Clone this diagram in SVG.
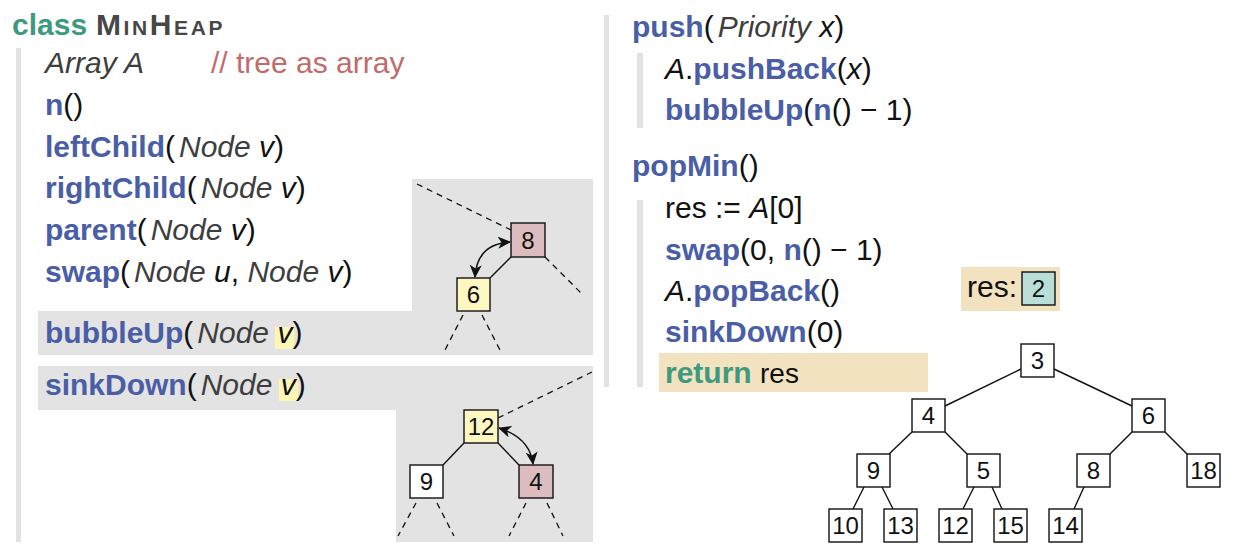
<svg xmlns="http://www.w3.org/2000/svg" width="1242" height="552" viewBox="0 0 1242 552">
<defs>
<style>
text{font-family:"Liberation Sans",Arial,sans-serif;font-size:30px;fill:#111}
.kw{font-weight:bold;fill:#4a5ea7}
.tl{font-weight:bold;fill:#3d9a7e}
.it{font-style:italic;fill:#3e3e3e}
.mi{font-style:italic;fill:#111}
.cm{fill:#c06c6a}
.sc{font-weight:bold;fill:#474747;letter-spacing:2.6px}
.bar{fill:#e2e2e2}
.panel{fill:#e3e3e3}
.box{stroke:#111;stroke-width:1.4;fill:#fff}
.pink{fill:#dcbcbf}
.yel{fill:#fff7c2}
.hl{fill:#fff6b6}
.beige{fill:#f3e2c0}
.teal{fill:#b9ddd7}
.num{font-size:24px;text-anchor:middle;fill:#111}
.edge{stroke:#111;stroke-width:1.4;fill:none}
.dash{stroke:#111;stroke-width:1.3;fill:none;stroke-dasharray:6 5}
.arr{stroke:#111;stroke-width:1.5;fill:none;marker-start:url(#ah);marker-end:url(#ah)}
</style>
<marker id="ah" markerUnits="userSpaceOnUse" markerWidth="15" markerHeight="13" refX="12" refY="6" orient="auto-start-reverse">
<path d="M0,0 L13,6 L0,12 L3.5,6 Z" fill="#111"/>
</marker>
</defs>

<!-- background bars and panels -->
<rect class="bar" x="16" y="48" width="5" height="494"/>
<rect class="bar" x="604" y="15" width="5" height="372"/>
<rect class="bar" x="637" y="53" width="6" height="75"/>
<rect class="bar" x="637" y="200" width="6" height="187"/>
<path class="panel" d="M412,179 H593 V355 H38 V311 H412 Z"/>
<path class="panel" d="M38,366 H593 V542 H396 V410 H38 Z"/>
<rect class="hl" x="275" y="327" width="19" height="22"/>
<rect class="hl" x="279" y="379" width="19" height="22"/>
<rect class="beige" x="659" y="353" width="269" height="39"/>

<!-- left code -->
<g id="code-left">
<text x="12" y="35"><tspan class="tl">class</tspan></text>
<text x="96" y="35" class="sc"><tspan font-size="30">M</tspan><tspan font-size="21">IN</tspan><tspan font-size="30">H</tspan><tspan font-size="21">EAP</tspan></text>
<text x="45" y="73" class="it">Array A</text>
<text x="211" y="73" class="cm">// tree as array</text>
<text x="45" y="115"><tspan class="kw">n</tspan>()</text>
<text x="45" y="157"><tspan class="kw">leftChild</tspan>(<tspan class="it" dx="4">Node </tspan><tspan class="mi">v</tspan>)</text>
<text x="45" y="198"><tspan class="kw">rightChild</tspan>(<tspan class="it" dx="4">Node </tspan><tspan class="mi">v</tspan>)</text>
<text x="45" y="240"><tspan class="kw">parent</tspan>(<tspan class="it" dx="4">Node </tspan><tspan class="mi">v</tspan>)</text>
<text x="45" y="282"><tspan class="kw">swap</tspan>(<tspan class="it" dx="4">Node </tspan><tspan class="mi">u</tspan>, <tspan class="it">Node </tspan><tspan class="mi">v</tspan>)</text>
<text x="45" y="343"><tspan class="kw">bubbleUp</tspan>(<tspan class="it" dx="4">Node </tspan><tspan class="mi">v</tspan>)</text>
<text x="45" y="395"><tspan class="kw">sinkDown</tspan>(<tspan class="it" dx="4">Node </tspan><tspan class="mi">v</tspan>)</text>
</g>

<!-- right code -->
<g id="code-right">
<text x="632" y="37"><tspan class="kw">push</tspan>(<tspan class="it" dx="4">Priority </tspan><tspan class="mi">x</tspan>)</text>
<text x="665" y="79"><tspan class="mi">A</tspan>.<tspan class="kw">pushBack</tspan>(<tspan class="mi">x</tspan>)</text>
<text x="665" y="120"><tspan class="kw">bubbleUp</tspan>(<tspan class="kw">n</tspan>() − 1)</text>
<text x="632" y="176"><tspan class="kw">popMin</tspan>()</text>
<text x="665" y="218" font-size="28">res := <tspan class="mi" font-size="30">A</tspan><tspan font-size="30">[0]</tspan></text>
<text x="665" y="260"><tspan class="kw">swap</tspan>(0, <tspan class="kw">n</tspan>() − 1)</text>
<text x="665" y="301"><tspan class="mi">A</tspan>.<tspan class="kw">popBack</tspan>()</text>
<text x="665" y="342"><tspan class="kw">sinkDown</tspan>(0)</text>
<text x="665" y="383"><tspan class="tl">return</tspan> <tspan font-size="28">res</tspan></text>
</g>

<!-- res box -->
<g id="res">
<rect class="beige" x="961" y="267" width="99" height="44"/>
<text x="967" y="297" font-size="24">res:</text>
<rect class="box teal" x="1022" y="272" width="33" height="33"/>
<text class="num" x="1038.5" y="297" font-size="21">2</text>
</g>

<!-- connectors -->
<g id="connectors">
<line class="dash" x1="417" y1="184" x2="511" y2="230"/>
<line class="dash" x1="545" y1="257" x2="583" y2="295"/>
<line class="dash" x1="463" y1="315" x2="445" y2="350"/>
<line class="dash" x1="482" y1="315" x2="500" y2="350"/>
<line class="edge" x1="490" y1="278" x2="511" y2="257"/>
<path class="arr" d="M475,277 Q477,244 510,242"/>

<line class="dash" x1="498" y1="418" x2="592" y2="372"/>
<line class="dash" x1="416" y1="503" x2="398" y2="536"/>
<line class="dash" x1="437" y1="503" x2="454" y2="536"/>
<line class="dash" x1="526" y1="503" x2="509" y2="536"/>
<line class="dash" x1="547" y1="503" x2="563" y2="536"/>
<line class="edge" x1="464" y1="443" x2="443" y2="465"/>
<line class="edge" x1="498" y1="443" x2="519" y2="465"/>
<path class="arr" d="M499,428 Q530,438 533,464"/>

<line class="edge" x1="1021" y1="369" x2="945" y2="406"/>
<line class="edge" x1="1054" y1="369" x2="1132" y2="406"/>
<line class="edge" x1="912" y1="432" x2="889" y2="454"/>
<line class="edge" x1="945" y1="432" x2="967" y2="454"/>
<line class="edge" x1="1132" y1="432" x2="1110" y2="454"/>
<line class="edge" x1="1165" y1="432" x2="1187" y2="454"/>
<line class="edge" x1="864" y1="487" x2="853" y2="509"/>
<line class="edge" x1="882" y1="487" x2="893" y2="509"/>
<line class="edge" x1="974" y1="487" x2="963" y2="509"/>
<line class="edge" x1="992" y1="487" x2="1002" y2="509"/>
<line class="edge" x1="1084" y1="487" x2="1074" y2="509"/>
</g>

<!-- panel nodes -->
<g id="p1-8"><rect class="box pink" x="511" y="223" width="34" height="34"/><text class="num" x="528" y="249">8</text></g>
<g id="p1-6"><rect class="box yel" x="457" y="278" width="33" height="33"/><text class="num" x="473.5" y="303">6</text></g>
<g id="p2-12"><rect class="box yel" x="464" y="410" width="34" height="33"/><text class="num" x="481" y="435">12</text></g>
<g id="p2-9"><rect class="box" x="410" y="465" width="33" height="33"/><text class="num" x="426.5" y="490">9</text></g>
<g id="p2-4"><rect class="box pink" x="519" y="465" width="34" height="33"/><text class="num" x="536" y="490">4</text></g>

<!-- heap tree -->
<g id="t3"><rect class="box" x="1021" y="344" width="33" height="33"/><text class="num" x="1037.5" y="369">3</text></g>
<g id="t4"><rect class="box" x="912" y="399" width="33" height="33"/><text class="num" x="928.5" y="424">4</text></g>
<g id="t6"><rect class="box" x="1132" y="399" width="33" height="33"/><text class="num" x="1148.5" y="424">6</text></g>
<g id="t9"><rect class="box" x="857" y="454" width="33" height="33"/><text class="num" x="873.5" y="479">9</text></g>
<g id="t5"><rect class="box" x="967" y="454" width="33" height="33"/><text class="num" x="983.5" y="479">5</text></g>
<g id="t8"><rect class="box" x="1077" y="454" width="33" height="33"/><text class="num" x="1093.5" y="479">8</text></g>
<g id="t18"><rect class="box" x="1187" y="454" width="33" height="33"/><text class="num" x="1203.5" y="479">18</text></g>
<g id="t10"><rect class="box" x="829" y="509" width="33" height="33"/><text class="num" x="845.5" y="534">10</text></g>
<g id="t13"><rect class="box" x="884" y="509" width="33" height="33"/><text class="num" x="900.5" y="534">13</text></g>
<g id="t12"><rect class="box" x="939" y="509" width="33" height="33"/><text class="num" x="955.5" y="534">12</text></g>
<g id="t15"><rect class="box" x="994" y="509" width="33" height="33"/><text class="num" x="1010.5" y="534">15</text></g>
<g id="t14"><rect class="box" x="1049" y="509" width="33" height="33"/><text class="num" x="1065.5" y="534">14</text></g>
</svg>
